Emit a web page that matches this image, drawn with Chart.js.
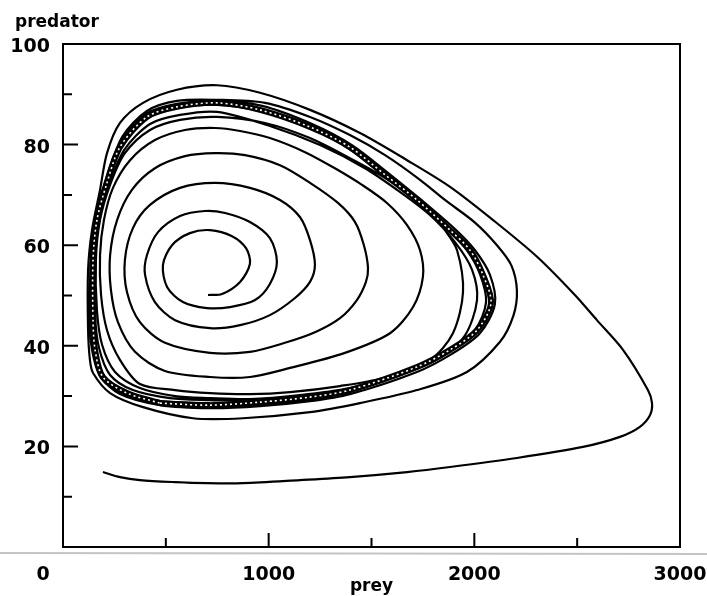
<!DOCTYPE html>
<html>
<head>
<meta charset="utf-8">
<script src="https://cdn.jsdelivr.net/npm/chart.js@4.4.1/dist/chart.umd.min.js"></script>
<style>
  html, body { margin: 0; padding: 0; background: #fff; }
</style>
</head>
<body>
<canvas id="phase" width="707" height="596"></canvas>
<script>
// axis ticks
const xTicks = [0, 1000, 2000, 3000];
const yTicks = [20, 40, 60, 80, 100];
const xMarks = [500, 1000, 1500, 2000, 2500];
const xMajor = [1000, 2000];
const yMarks = [10, 20, 30, 40, 50, 60, 70, 80, 90];
const yMajor = [20, 40, 60, 80];

// trajectory starting inside, spiralling out to the cycle
const innerPrey = [
  705, 773, 861, 909, 890, 822, 715, 617, 530, 486, 506, 583, 700,
  812, 934, 1006, 1040, 1006, 909, 788, 690, 569, 462, 408, 399, 447, 545, 715,
  861, 1006, 1128, 1201, 1225, 1201, 1152, 1055, 909, 739, 569, 423, 340, 301, 311, 374, 496, 715,
  909, 1079, 1225, 1347, 1429, 1473, 1483, 1463, 1420, 1337, 1201, 1055, 885, 739, 593, 447, 335, 263, 229, 233, 267, 350, 496, 715,
  909, 1104, 1371, 1590, 1702, 1750, 1736, 1673, 1575, 1454, 1322, 1177, 1006, 861, 739, 593, 447, 326, 243, 199, 180, 185, 214, 277, 374, 545, 715,
  909, 1104, 1347, 1556, 1784, 1896, 1945, 1916, 1857, 1784, 1673, 1541, 1395, 1201, 982, 749, 569, 423, 301, 229, 180, 160, 165, 190, 253, 374, 545, 715,
  909, 1152, 1395, 1638, 1833, 1955, 2013, 1989, 1906, 1784, 1638, 1468, 1250, 1006, 749, 569, 423, 297, 229, 175, 156, 156, 175, 229, 340, 520, 715,
  958, 1201, 1395, 1721, 1882, 2003, 2057, 2027, 1964, 1872, 1711, 1556, 1386, 1201, 958, 749, 554, 408, 282, 214, 165, 146, 146, 160, 199, 316, 472, 715
];
const innerPred = [
  50.1, 50.3, 52.7, 56.3, 59.4, 61.8, 63.0, 62.4, 60.0, 56.1, 51.7, 48.7, 47.5,
  47.7, 49.1, 52.3, 56.7, 61.4, 64.6, 66.4, 66.8, 65.8, 62.6, 58.0, 54.1, 48.7, 45.1, 43.5,
  44.1, 46.1, 49.5, 52.7, 56.1, 61.0, 65.6, 69.0, 71.4, 72.4, 71.4, 68.0, 63.4, 57.1, 50.7, 44.7, 40.6, 38.6,
  38.8, 40.6, 42.7, 45.5, 49.1, 52.7, 55.5, 60.0, 64.6, 68.4, 72.4, 75.9, 77.9, 78.3, 77.7, 75.3, 71.0, 65.0, 58.0, 51.1, 44.7, 38.8, 35.0, 33.8,
  33.8, 35.6, 38.6, 42.5, 47.7, 53.7, 59.0, 64.0, 68.4, 72.0, 75.3, 78.5, 81.3, 82.7, 83.3, 82.9, 80.9, 76.9, 71.4, 65.0, 58.0, 50.1, 43.1, 37.2, 32.4, 31.2, 30.6,
  30.4, 30.8, 32.0, 33.6, 37.2, 42.5, 50.7, 59.0, 63.0, 66.6, 70.4, 74.0, 77.3, 81.3, 84.3, 85.5, 84.9, 82.9, 78.3, 72.0, 65.0, 57.1, 47.1, 40.2, 34.8, 31.6, 30.0, 29.6,
  29.4, 30.2, 31.6, 34.2, 37.6, 42.1, 49.1, 55.1, 60.6, 66.0, 70.6, 75.3, 79.9, 83.7, 86.5, 85.9, 84.1, 78.9, 72.4, 65.0, 57.1, 46.1, 39.6, 34.2, 31.2, 29.6, 29.2,
  29.0, 30.0, 31.4, 35.8, 39.2, 43.1, 48.7, 54.3, 59.0, 63.0, 69.0, 74.0, 79.3, 83.3, 86.7, 87.9, 87.3, 85.3, 79.5, 72.4, 65.0, 57.1, 45.1, 39.2, 34.0, 30.8, 29.0, 28.6
];

// trajectory starting outside (low predator), closing in on the cycle
const outerPrey = [
  194, 277, 374, 545, 700, 875, 1152, 1395, 1673, 1882, 2207, 2528, 2708, 2805, 2854, 2864, 2844, 2723, 2596, 2489, 2305, 2091, 1882, 1673, 1444, 1201, 958, 749, 554, 389, 277, 214, 180, 141, 122, 122, 131, 146, 229, 389, 632, 875, 1201, 1444,
  1721, 1964, 2125, 2190, 2207, 2180, 2110, 2003, 1857, 1736, 1566, 1395, 1201, 982, 749, 554, 408, 287, 219, 165, 136, 131, 141, 180, 277, 472, 715, 958, 1201,
  1395, 1721, 1891, 2027, 2100, 2076, 2003, 1906, 1736, 1580, 1405, 1211, 968, 749, 554, 404, 272, 204, 156, 136, 136, 146, 185, 301, 472, 715, 958, 1201, 1395
];
const outerPred = [
  14.9, 13.9, 13.3, 12.9, 12.7, 12.7, 13.3, 13.9, 14.9, 15.9, 17.7, 19.9, 21.9, 23.9, 26.2, 28.6, 31.2, 39.2, 45.1, 50.1, 57.7, 65.0, 71.6, 76.9, 82.3, 86.9, 90.3, 91.8, 90.9, 88.3, 84.3, 78.3, 71.0, 63.0, 55.1, 43.1, 37.2, 34.6, 30.6, 27.8, 25.6, 25.6, 26.8, 28.6,
  31.2, 34.8, 40.8, 46.0, 51.0, 56.0, 60.0, 64.5, 69.0, 73.0, 77.9, 81.9, 85.5, 88.3, 88.9, 88.7, 86.7, 81.5, 74.0, 66.0, 57.1, 45.1, 39.2, 34.0, 30.4, 28.2, 27.6, 28.0, 29.0,
  30.4, 34.8, 38.4, 42.5, 48.3, 54.1, 59.0, 63.2, 69.2, 74.4, 79.9, 84.1, 87.7, 88.7, 88.1, 86.1, 79.9, 72.6, 65.0, 57.1, 45.1, 38.8, 33.6, 30.2, 28.4, 28.0, 28.4, 29.4, 30.8
];

// limit cycle (thick band)
const cyclePrey = [472, 715, 958, 1201, 1395, 1721, 1882, 2013, 2081, 2042, 1979, 1882, 1721, 1566, 1395, 1201, 958, 749, 554, 408, 277, 214, 165, 146, 146, 156, 194, 311, 472];
const cyclePred = [28.6, 28.2, 28.8, 29.8, 31.2, 35.8, 39.2, 43.1, 48.5, 54.1, 59.0, 63.0, 69.0, 74.0, 79.5, 83.5, 86.9, 88.3, 87.5, 85.5, 79.5, 72.4, 65.0, 57.1, 45.1, 39.2, 33.8, 30.6, 28.6];

const toPoints = (xs, ys) => xs.map((v, i) => ({ x: v, y: ys[i] }));

const tickFont = { family: 'DejaVu Sans', size: 19, weight: 'bold' };

// frame, inward tick marks, axis names
const framePlugin = {
  id: 'frame',
  beforeDraw(chart) {
    const ctx = chart.ctx;
    ctx.save();
    ctx.strokeStyle = '#c4c4c4';
    ctx.lineWidth = 2;
    ctx.beginPath();
    ctx.moveTo(0, 553);
    ctx.lineTo(707, 554);
    ctx.stroke();
    ctx.restore();
  },
  afterDraw(chart) {
    const { ctx, chartArea: a } = chart;
    const xs = chart.scales.x, ys = chart.scales.y;
    ctx.save();
    ctx.strokeStyle = '#000';
    ctx.lineWidth = 2;
    ctx.strokeRect(a.left, a.top, a.right - a.left, a.bottom - a.top);
    ctx.beginPath();
    xMarks.forEach(v => {
      const px = xs.getPixelForValue(v);
      const len = xMajor.includes(v) ? 14 : 9;
      ctx.moveTo(px, a.bottom);
      ctx.lineTo(px, a.bottom - len);
    });
    yMarks.forEach(v => {
      const py = ys.getPixelForValue(v);
      const len = yMajor.includes(v) ? 15 : 9;
      ctx.moveTo(a.left, py);
      ctx.lineTo(a.left + len, py);
    });
    ctx.stroke();

    ctx.fillStyle = '#000';
    ctx.font = 'bold 17px "DejaVu Sans"';
    ctx.textAlign = 'left';
    ctx.textBaseline = 'alphabetic';
    ctx.fillText('predator', 15, 27);
    ctx.textAlign = 'center';
    ctx.fillText('prey', (a.left + a.right) / 2, 591);
    ctx.restore();
  }
};

const lineStyle = { showLine: true, pointRadius: 0, borderColor: '#000', borderWidth: 2.2, tension: 0.3, fill: false };

new Chart(document.getElementById('phase'), {
  type: 'scatter',
  data: {
    datasets: [
      { ...lineStyle, label: 'cycle dots', data: toPoints(cyclePrey, cyclePred), borderColor: '#fff', borderWidth: 1.6, borderDash: [2, 3], order: 0 },
      { ...lineStyle, label: 'cycle', data: toPoints(cyclePrey, cyclePred), borderWidth: 6, order: 1 },
      { ...lineStyle, label: 'inner', data: toPoints(innerPrey, innerPred), order: 2 },
      { ...lineStyle, label: 'outer', data: toPoints(outerPrey, outerPred), order: 2 }
    ]
  },
  options: {
    responsive: false,
    devicePixelRatio: 1,
    animation: false,
    layout: { padding: { top: 44, right: 27, left: 0, bottom: 0 } },
    plugins: { legend: { display: false }, tooltip: { enabled: false } },
    scales: {
      x: {
        type: 'linear', min: 0, max: 3000,
        afterBuildTicks: s => { s.ticks = xTicks.map(v => ({ value: v })); },
        afterFit: s => { s.height = 49; s.paddingLeft = 0; s.paddingRight = 0; },
        grid: { display: false, drawTicks: false },
        border: { display: false },
        ticks: {
          color: '#000', font: tickFont, padding: 17, maxRotation: 0, autoSkip: false,
          callback: v => v === 0 ? '0      ' : String(v)
        }
      },
      y: {
        type: 'linear', min: 0, max: 100,
        afterBuildTicks: s => { s.ticks = yTicks.map(v => ({ value: v })); },
        afterFit: s => { s.width = 63; s.paddingTop = 0; s.paddingBottom = 0; },
        grid: { display: false, drawTicks: false },
        border: { display: false },
        ticks: { color: '#000', font: tickFont, padding: 13, labelOffset: 3, autoSkip: false }
      }
    }
  },
  plugins: [framePlugin]
});
</script>
</body>
</html>
